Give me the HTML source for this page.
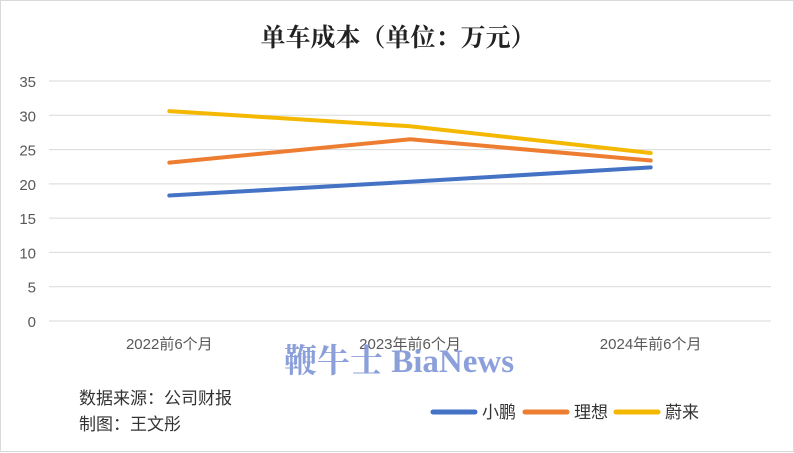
<!DOCTYPE html>
<html><head><meta charset="utf-8"><style>
body{margin:0;background:#fff;}
#c{width:794px;height:452px;position:relative;background:#fff;border:1px solid #d9d9d9;box-sizing:border-box;font-family:"Liberation Sans","Noto Sans CJK SC",sans-serif;}
</style></head><body>
<div id="c">
<svg id="s" width="794" height="452" style="position:absolute;left:0;top:0">
<text x="397" y="45" text-anchor="middle" font-size="25" font-weight="bold" fill="#222" font-family="'Noto Serif CJK SC',serif">单车成本（单位：万元）</text>
<g id="grid"></g><g id="lines"></g>
<text x="398" y="371" text-anchor="middle" font-size="33" font-weight="bold" fill="#7f96d6" opacity="0.9" font-family="'Liberation Serif','Noto Serif CJK SC',serif">鞭牛士 BiaNews</text>
<text x="78" y="403" font-size="17" fill="#333">数据来源：公司财报</text>
<text x="78" y="429" font-size="17" fill="#333">制图：王文彤</text>
<g id="legend"></g>
</svg>
</div>
<script>
const categories=["2022前6个月","2023年前6个月","2024年前6个月"];
const seriesNames=["小鹏","理想","蔚来"];
const xpeng=[18.3,20.3,22.4];
const lixiang=[23.1,26.5,23.4];
const nio=[30.6,28.4,24.5];
const ticks=[0,5,10,15,20,25,30,35];
const colors=["#4472c4","#ed7d31","#f4b800"];
const NS="http://www.w3.org/2000/svg";
const L=48,R=770,T=80,B=320;
const y=v=>B-(v/35)*(B-T);
const x=i=>L+(i+0.5)*(R-L)/categories.length;
function mk(tag,a,p){const e=document.createElementNS(NS,tag);for(const k in a)e.setAttribute(k,a[k]);p.appendChild(e);return e;}
const g=document.getElementById('grid');
ticks.forEach(t=>{
 const ln=mk('line',{x1:L,x2:R,y1:y(t),y2:y(t),stroke:'#d9d9d9','stroke-width':1},g);
 
 
 const tx=mk('text',{x:35,y:y(t)+6,'text-anchor':'end','font-size':15,fill:'#595959'},g);
 tx.textContent=t;
 
 
});
categories.forEach((c,i)=>{
 const tx=mk('text',{x:x(i),y:348,'text-anchor':'middle','font-size':15,fill:'#595959'},g);
 tx.textContent=c;
 
 
});
const lg=document.getElementById('lines');
[xpeng,lixiang,nio].forEach((d,si)=>{
 const p=mk('polyline',{points:d.map((v,i)=>x(i)+','+y(v)).join(' '),fill:'none',stroke:colors[si],'stroke-width':4,'stroke-linecap':'round','stroke-linejoin':'round'},lg);
 
 
});
const leg=document.getElementById('legend');
const lx=[432,524,615];
seriesNames.forEach((n,i)=>{
 const l=mk('line',{x1:lx[i],x2:lx[i]+42,y1:411,y2:411,stroke:colors[i],'stroke-width':5,'stroke-linecap':'round'},leg);
 
 
 const t=mk('text',{x:lx[i]+49,y:417,'font-size':17,fill:'#333'},leg);
 t.textContent=n;
 
 
});
</script>
</body></html>
